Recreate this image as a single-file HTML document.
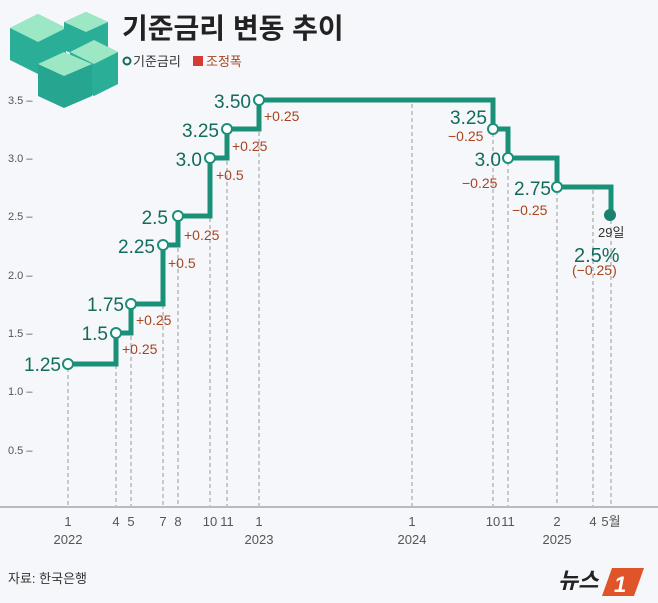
<!DOCTYPE html>
<html><head><meta charset="utf-8"><style>
body{margin:0;background:#f6f7fa;}
svg{display:block;font-family:"Liberation Sans","Noto Sans CJK KR",sans-serif;}
.g{fill:#136b5b;font-size:19px;}
.r{fill:#a8451f;font-size:14px;}
.ax{fill:#555;font-size:11px;}
.xt{fill:#555;font-size:13px;text-anchor:middle;}
</style></head><body>
<svg width="658" height="603" viewBox="0 0 658 603">
<rect width="658" height="603" fill="#f6f7fa"/>
<!-- money icon -->
<g>
<polygon points="10,28 38,14 66,28 66,60 38,74 10,60" fill="#2aae98"/>
<polygon points="10,28 38,14 66,28 38,42" fill="#9de8c4"/>
<polygon points="64,22 86,12 108,22 108,50 86,60 64,50" fill="#2aae98"/>
<polygon points="64,22 86,12 108,22 86,32" fill="#9de8c4"/>
<polygon points="70,52 94,40 118,52 118,84 94,96 70,84" fill="#2aae98"/>
<polygon points="70,52 94,40 118,52 94,64" fill="#9de8c4"/>
<polygon points="38,64 64,52 92,64 92,96 64,108 38,96" fill="#26a690"/>
<polygon points="38,64 64,52 92,64 64,76" fill="#9de8c4"/>
</g>
<text x="122" y="38" font-size="28" font-weight="bold" fill="#222">기준금리 변동 추이</text>
<circle cx="127" cy="61" r="3.5" fill="none" stroke="#136b5b" stroke-width="2"/>
<text x="133" y="66" font-size="13" fill="#333">기준금리</text>
<rect x="193" y="56" width="10" height="10" fill="#d43b32"/>
<text x="206" y="66" font-size="13" fill="#a8451f">조정폭</text>
<!-- y axis labels -->
<g class="ax">
<text x="8" y="104">3.5 –</text><text x="8" y="162">3.0 –</text><text x="8" y="220">2.5 –</text>
<text x="8" y="279">2.0 –</text><text x="8" y="337">1.5 –</text><text x="8" y="395">1.0 –</text><text x="8" y="454">0.5 –</text>
</g>
<!-- dashed lines -->
<g stroke="#999" stroke-width="1" stroke-dasharray="4,3">
<line x1="68" y1="368" x2="68" y2="507"/><line x1="116" y1="337" x2="116" y2="507"/>
<line x1="131" y1="308" x2="131" y2="507"/><line x1="163" y1="249" x2="163" y2="507"/>
<line x1="178" y1="220" x2="178" y2="507"/><line x1="210" y1="162" x2="210" y2="507"/>
<line x1="227" y1="133" x2="227" y2="507"/><line x1="259" y1="104" x2="259" y2="507"/>
<line x1="412" y1="104" x2="412" y2="507"/><line x1="493" y1="133" x2="493" y2="507"/>
<line x1="508" y1="162" x2="508" y2="507"/><line x1="557" y1="191" x2="557" y2="507"/>
<line x1="593" y1="190" x2="593" y2="507"/><line x1="611" y1="220" x2="611" y2="507"/>
</g>
<line x1="0" y1="507" x2="658" y2="507" stroke="#bbb" stroke-width="2"/>
<!-- step line -->
<polyline fill="none" stroke="#1a9079" stroke-width="5" stroke-linejoin="miter"
points="68,364 116,364 116,333 131,333 131,304 163,304 163,245 178,245 178,216 210,216 210,158 227,158 227,129 259,129 259,100 493,100 493,129 508,129 508,158 557,158 557,187 611,187 611,215"/>
<g fill="#fff" stroke="#1a9079" stroke-width="2">
<circle cx="68" cy="364" r="5"/><circle cx="116" cy="333" r="5"/><circle cx="131" cy="304" r="5"/>
<circle cx="163" cy="245" r="5"/><circle cx="178" cy="216" r="5"/><circle cx="210" cy="158" r="5"/>
<circle cx="227" cy="129" r="5"/><circle cx="259" cy="100" r="5"/><circle cx="493" cy="129" r="5"/>
<circle cx="508" cy="158" r="5"/><circle cx="557" cy="187" r="5"/>
</g>
<circle cx="610" cy="215" r="6" fill="#1a8070"/>
<!-- value labels -->
<g class="g" text-anchor="end">
<text x="61" y="371">1.25</text><text x="108" y="340">1.5</text><text x="124" y="311">1.75</text>
<text x="155" y="253">2.25</text><text x="168" y="224">2.5</text><text x="202" y="166">3.0</text>
<text x="219" y="137">3.25</text><text x="251" y="108">3.50</text><text x="487" y="124">3.25</text>
<text x="501" y="166">3.0</text><text x="551" y="195">2.75</text>
</g>
<g class="r">
<text x="122" y="354">+0.25</text><text x="136" y="325">+0.25</text><text x="168" y="268">+0.5</text>
<text x="184" y="240">+0.25</text><text x="216" y="180">+0.5</text><text x="232" y="151">+0.25</text>
<text x="264" y="121">+0.25</text>
<text x="448" y="141">−0.25</text><text x="462" y="188">−0.25</text><text x="512" y="215">−0.25</text>
</g>
<text x="598" y="237" font-size="13" fill="#333">29일</text>
<text x="574" y="262" font-size="20" fill="#136b5b">2.5%</text>
<text x="572" y="275" font-size="14" fill="#a8451f">(−0.25)</text>
<!-- x labels -->
<g class="xt">
<text x="68" y="526">1</text><text x="116" y="526">4</text><text x="131" y="526">5</text>
<text x="163" y="526">7</text><text x="178" y="526">8</text><text x="210" y="526">10</text><text x="227" y="526">11</text>
<text x="259" y="526">1</text><text x="412" y="526">1</text><text x="493" y="526">10</text><text x="508" y="526">11</text>
<text x="557" y="526">2</text><text x="593" y="526">4</text><text x="611" y="526">5월</text>
<text x="68" y="544">2022</text><text x="259" y="544">2023</text><text x="412" y="544">2024</text><text x="557" y="544">2025</text>
</g>
<text x="8" y="583" font-size="13" fill="#333">자료: 한국은행</text>
<text x="558" y="588" font-size="22" font-weight="bold" fill="#222" font-style="italic">뉴스</text>
<polygon points="612,568 644,568 634,596 602,596" fill="#e0542a"/>
<text x="614" y="592" font-size="22" font-weight="bold" fill="#fff" font-style="italic">1</text>
</svg>
</body></html>
